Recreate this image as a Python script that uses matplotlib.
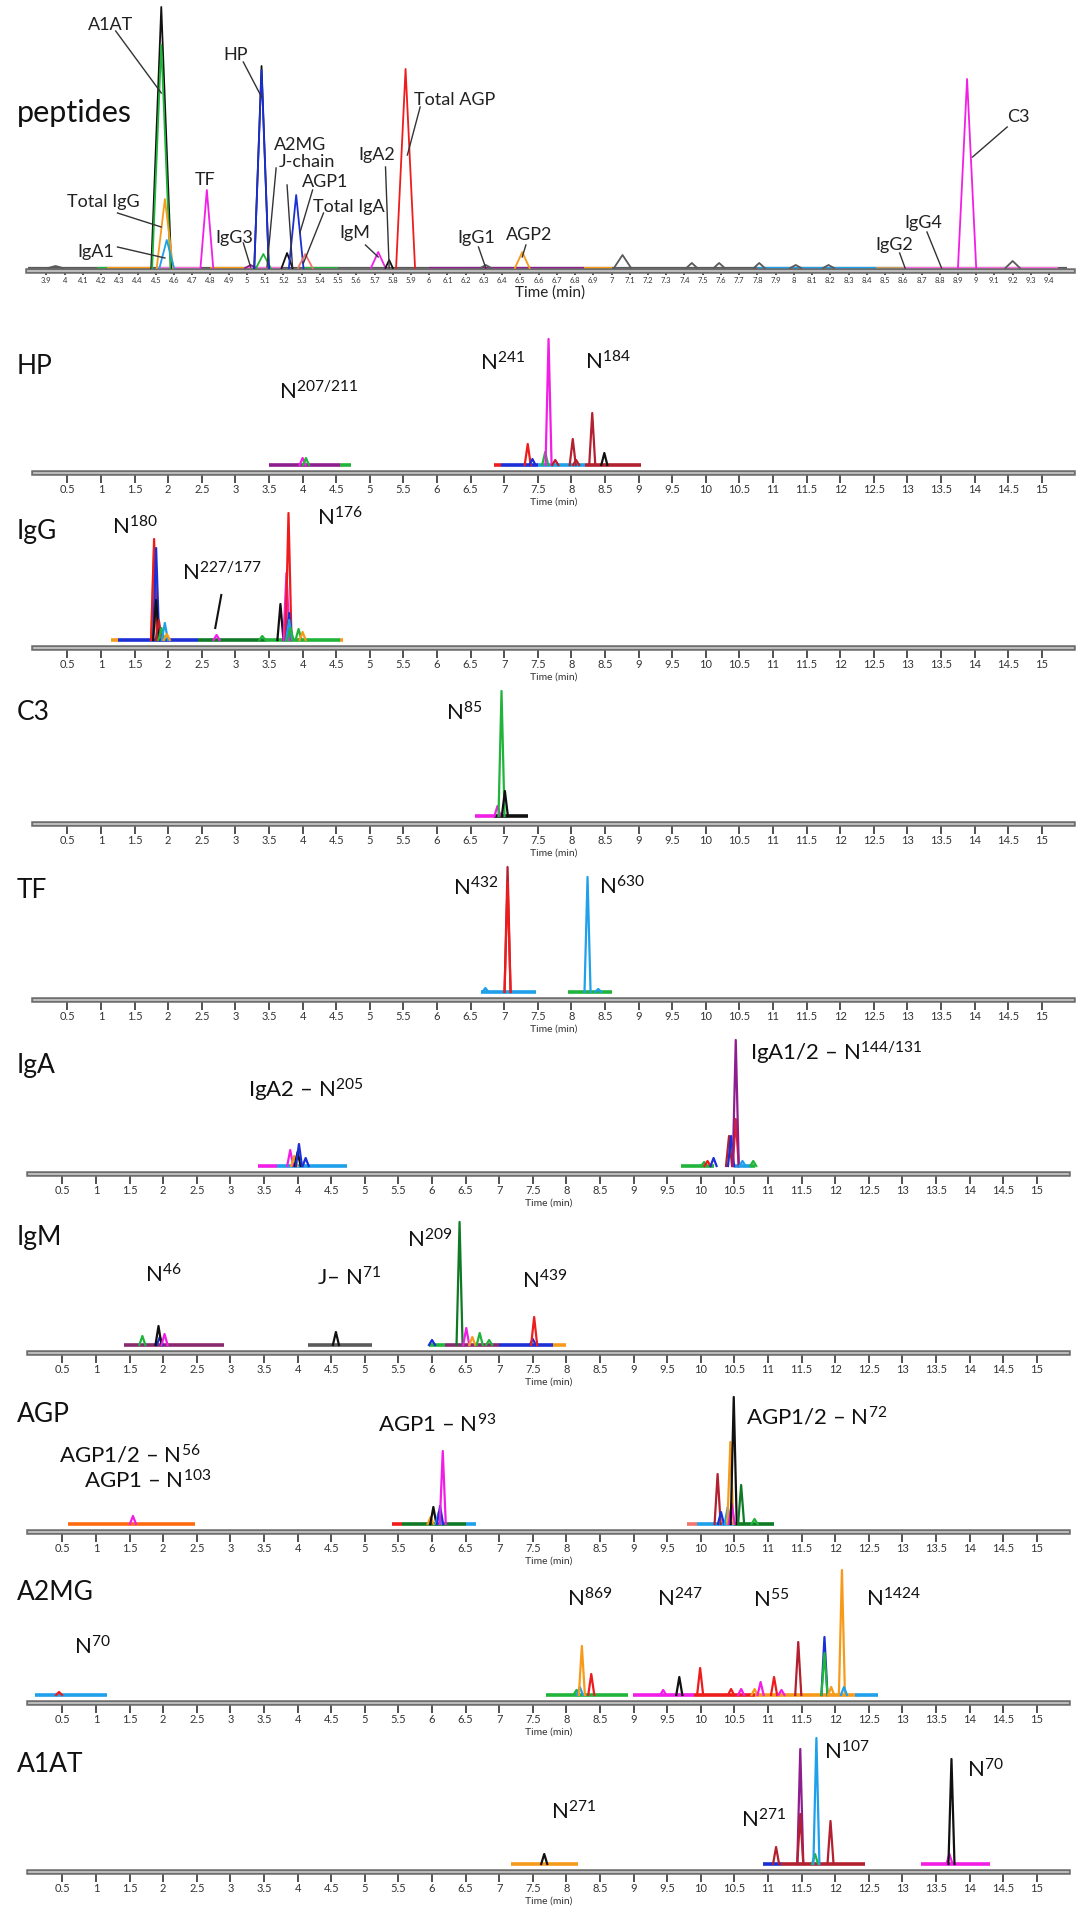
import matplotlib
matplotlib.use("Agg")
import matplotlib.pyplot as plt
from matplotlib.ticker import MultipleLocator, FuncFormatter

plt.rcParams["font.family"] = ["Lato", "DejaVu Sans"]
plt.rcParams["mathtext.fontset"] = "custom"
plt.rcParams["mathtext.rm"] = "Lato"
plt.rcParams["mathtext.it"] = "Lato:italic"
plt.rcParams["mathtext.bf"] = "Lato:bold"
plt.rcParams["mathtext.default"] = "regular"

# trace colours (one per glycoform / peptide trace)
COLORS = {
    "black": "#111111", "grey": "#5a5a5a", "red": "#ee1c1c", "darkred": "#b3202f",
    "magenta": "#f21ee6", "purple": "#8e1e8e", "green": "#20b43a", "darkgreen": "#0e7a25",
    "blue": "#1a2fd6", "lightblue": "#1ea0ea", "orange": "#f79a1a", "salmon": "#f2746b",
    "tan": "#c8a060", "pink": "#ff6fe0", "maroon": "#8a2a6e", "dorange": "#ff6a10",
}

# ---------------- peptides (top) ----------------
# (colour, time, height, half width)
PEP_PEAKS = [
    ("grey", 3.95, 2, 0.04), ("black", 4.53, 261, 0.055), ("green", 4.53, 223, 0.05),
    ("orange", 4.55, 69, 0.045), ("lightblue", 4.56, 28, 0.04), ("magenta", 4.78, 78, 0.035),
    ("purple", 5.02, 3, 0.03), ("green", 5.09, 14, 0.04), ("black", 5.08, 202, 0.04),
    ("blue", 5.08, 198, 0.04), ("black", 5.22, 15, 0.03), ("blue", 5.27, 73, 0.04),
    ("salmon", 5.32, 14, 0.04), ("magenta", 5.72, 16, 0.04), ("black", 5.78, 8, 0.02),
    ("red", 5.87, 199, 0.052), ("grey", 6.31, 3, 0.03), ("orange", 6.51, 16, 0.04),
    ("grey", 7.06, 13, 0.047), ("grey", 7.44, 5, 0.03), ("grey", 7.59, 5, 0.03),
    ("grey", 7.81, 5, 0.03), ("grey", 8.01, 3, 0.03), ("grey", 8.19, 3, 0.03),
    ("magenta", 8.95, 189, 0.05), ("grey", 9.2, 7, 0.04),
]
PEP_BASE = [
    ("grey", 3.75, 9.5), ("green", 4.18, 4.23), ("orange", 4.23, 4.48), ("pink", 4.5, 4.75),
    ("orange", 4.8, 5.0), ("pink", 5.0, 5.2), ("green", 5.3, 5.5), ("purple", 6.0, 6.85),
    ("orange", 6.85, 7.0), ("lightblue", 7.8, 8.45), ("tan", 8.45, 8.6), ("pink", 8.6, 9.45),
]
# (label, text time, text height, line from (t, h), line to (t, h))
PEP_LABELS = [
    ("A1AT", 4.25, 243, (4.28, 237), (4.53, 175)),
    ("HP", 4.94, 213, (4.98, 206), (5.08, 171)),
    ("A2MG", 5.29, 123, (5.16, 100), (5.11, 1)),
    ("J-chain", 5.33, 106, (5.22, 83), (5.25, 1)),
    ("TF", 4.77, 88, None, None),
    ("AGP1", 5.43, 86, (5.36, 78), (5.29, 35)),
    ("Total IgA", 5.56, 61, (5.42, 55), (5.31, 5)),
    ("Total IgG", 4.21, 66, (4.29, 55), (4.53, 41)),
    ("IgG3", 4.93, 30, (4.98, 25), (5.02, 1)),
    ("IgA1", 4.17, 16, (4.29, 21), (4.55, 10)),
    ("IgM", 5.59, 35, (5.65, 23), (5.72, 11)),
    ("IgA2", 5.71, 113, (5.76, 101), (5.78, 0)),
    ("Total AGP", 6.14, 168, (5.95, 161), (5.88, 113)),
    ("IgG1", 6.26, 30, (6.27, 21), (6.31, 0)),
    ("AGP2", 6.55, 33, (6.53, 23), (6.51, 11)),
    ("IgG2", 8.55, 23, (8.58, 15), (8.61, 0)),
    ("IgG4", 8.71, 45, (8.73, 36), (8.81, 0)),
    ("C3", 9.23, 151, (9.17, 141), (8.98, 111)),
]

# ---------------- site specific panels ----------------
HP_BASE = [("purple", 3.5, 4.55), ("green", 4.55, 4.72), ("red", 6.85, 6.95),
           ("blue", 6.95, 7.5), ("lightblue", 7.5, 8.2), ("darkred", 8.2, 9.03)]
HP_PEAKS = [("magenta", 4.0, 7), ("green", 4.05, 7), ("red", 7.35, 21), ("blue", 7.42, 6),
            ("green", 7.61, 13), ("magenta", 7.66, 126), ("darkred", 7.76, 5),
            ("darkred", 8.02, 26), ("darkred", 8.07, 5), ("darkred", 8.31, 52),
            ("black", 8.49, 12)]
HP_SITES = [("N$^{207/211}$", 4.24, 73), ("N$^{241}$", 6.98, 102), ("N$^{184}$", 8.54, 103)]

IGG_BASE = [("orange", 1.15, 1.25), ("blue", 1.25, 2.45), ("darkgreen", 2.45, 3.45),
            ("green", 3.45, 4.55), ("orange", 4.55, 4.6)]
IGG_PEAKS = [("orange", 1.79, 90), ("red", 1.79, 101), ("blue", 1.82, 92), ("black", 1.82, 40),
             ("darkred", 1.86, 20), ("green", 1.9, 12), ("lightblue", 1.95, 17),
             ("orange", 1.98, 6), ("magenta", 2.72, 5), ("green", 3.4, 4), ("black", 3.67, 36),
             ("magenta", 3.76, 67), ("red", 3.79, 127), ("blue", 3.8, 27),
             ("lightblue", 3.8, 20), ("green", 3.82, 12), ("green", 3.94, 11), ("orange", 4.0, 8)]
IGG_SITES = [("N$^{180}$", 1.51, 113), ("N$^{227/177}$", 2.80, 67), ("N$^{176}$", 4.56, 122)]

C3_BASE = [("magenta", 6.56, 6.85), ("black", 6.85, 7.35)]
C3_PEAKS = [("magenta", 6.9, 10), ("green", 6.96, 125), ("black", 7.01, 25)]
C3_SITES = [("N$^{85}$", 6.40, 103)]

TF_BASE = [("lightblue", 6.66, 7.48), ("green", 7.95, 8.61)]
TF_PEAKS = [("lightblue", 6.72, 4), ("darkred", 7.05, 125), ("red", 7.05, 110),
            ("lightblue", 8.24, 115), ("lightblue", 8.4, 3)]
TF_SITES = [("N$^{432}$", 6.58, 104), ("N$^{630}$", 8.75, 105)]

IGA_BASE = [("magenta", 3.41, 3.7), ("lightblue", 3.7, 4.74), ("green", 9.7, 10.2),
            ("lightblue", 10.5, 10.75), ("green", 10.75, 10.8)]
IGA_PEAKS = [("magenta", 3.89, 16), ("orange", 3.95, 10), ("black", 4.0, 14), ("blue", 4.02, 22),
             ("blue", 4.12, 8), ("green", 10.05, 4), ("red", 10.1, 5), ("blue", 10.19, 8),
             ("darkred", 10.42, 30), ("blue", 10.45, 30), ("red", 10.52, 47),
             ("purple", 10.52, 126), ("lightblue", 10.62, 5), ("green", 10.78, 5)]
IGA_SITES = [("IgA2 – N$^{205}$", 4.12, 76), ("IgA1/2 – N$^{144/131}$", 12.01, 113)]

IGM_BASE = [("maroon", 1.41, 2.9), ("grey", 4.15, 5.1), ("green", 5.95, 6.2),
            ("maroon", 6.2, 7.0), ("blue", 7.0, 7.8), ("orange", 7.8, 8.0)]
IGM_PEAKS = [("green", 1.69, 9), ("blue", 1.95, 8), ("black", 1.93, 19), ("magenta", 2.02, 11),
             ("black", 4.57, 13), ("blue", 6.0, 5), ("darkgreen", 6.41, 123),
             ("magenta", 6.51, 17), ("orange", 6.6, 8), ("green", 6.71, 12), ("green", 6.85, 5),
             ("blue", 7.5, 6), ("red", 7.52, 28)]
IGM_SITES = [("N$^{46}$", 2.0, 70), ("J– N$^{71}$", 4.77, 67), ("N$^{209}$", 5.97, 105),
             ("N$^{439}$", 7.67, 64)]

AGP_BASE = [("dorange", 0.58, 2.48), ("red", 5.41, 5.55), ("darkgreen", 5.55, 6.5),
            ("lightblue", 6.5, 6.65), ("salmon", 9.8, 9.95), ("lightblue", 9.95, 10.5),
            ("darkgreen", 10.5, 11.09)]
AGP_PEAKS = [("magenta", 1.55, 8), ("orange", 5.98, 7), ("black", 6.02, 17),
             ("lightblue", 6.1, 12), ("blue", 6.12, 18), ("magenta", 6.16, 73),
             ("darkred", 10.25, 50), ("blue", 10.3, 12), ("lightblue", 10.4, 17),
             ("orange", 10.44, 82), ("magenta", 10.46, 20), ("black", 10.49, 127),
             ("darkgreen", 10.6, 39), ("green", 10.8, 5)]
AGP_SITES = [("AGP1/2 – N$^{56}$", 1.50, 69), ("AGP1 – N$^{103}$", 1.77, 43),
             ("AGP1 – N$^{93}$", 6.07, 99), ("AGP1/2 – N$^{72}$", 11.73, 107)]

A2MG_BASE = [("lightblue", 0.09, 1.17), ("green", 7.7, 8.92), ("magenta", 8.99, 9.9),
             ("red", 9.9, 10.8), ("orange", 10.8, 12.3), ("lightblue", 12.3, 12.64)]
A2MG_PEAKS = [("red", 0.45, 3), ("green", 8.15, 5), ("lightblue", 8.2, 8), ("orange", 8.23, 49),
              ("red", 8.37, 21), ("magenta", 9.44, 5), ("black", 9.68, 18), ("red", 9.99, 27),
              ("red", 10.45, 6), ("magenta", 10.6, 6), ("orange", 10.8, 6),
              ("magenta", 10.89, 13), ("red", 11.09, 18), ("magenta", 11.2, 5),
              ("darkred", 11.45, 53), ("blue", 11.84, 58), ("green", 11.84, 42),
              ("orange", 11.94, 8), ("orange", 12.1, 125), ("lightblue", 12.13, 8)]
A2MG_SITES = [("N$^{70}$", 0.94, 48), ("N$^{869}$", 8.35, 96), ("N$^{247}$", 9.69, 96),
              ("N$^{55}$", 11.04, 95), ("N$^{1424}$", 12.87, 96)]

A1AT_BASE = [("orange", 7.17, 8.17), ("blue", 10.92, 11.2), ("darkred", 11.2, 12.44),
             ("magenta", 13.28, 14.3)]
A1AT_PEAKS = [("black", 7.67, 10), ("darkred", 11.12, 17), ("purple", 11.48, 115),
              ("darkred", 11.48, 50), ("green", 11.7, 10), ("lightblue", 11.72, 126),
              ("darkred", 11.93, 43), ("magenta", 13.7, 10), ("black", 13.73, 105)]
A1AT_SITES = [("N$^{271}$", 8.11, 52), ("N$^{271}$", 10.94, 44), ("N$^{107}$", 12.18, 112),
              ("N$^{70}$", 14.23, 94)]

PANEL_NAMES = ["HP", "IgG", "C3", "TF", "IgA", "IgM", "AGP", "A2MG", "A1AT"]
PANEL_DATA = [
    (HP_BASE, HP_PEAKS, HP_SITES), (IGG_BASE, IGG_PEAKS, IGG_SITES),
    (C3_BASE, C3_PEAKS, C3_SITES), (TF_BASE, TF_PEAKS, TF_SITES),
    (IGA_BASE, IGA_PEAKS, IGA_SITES), (IGM_BASE, IGM_PEAKS, IGM_SITES),
    (AGP_BASE, AGP_PEAKS, AGP_SITES), (A2MG_BASE, A2MG_PEAKS, A2MG_SITES),
    (A1AT_BASE, A1AT_PEAKS, A1AT_SITES),
]

# layout (pixels from top of the 1089 x 1920 figure)
W, H = 1089, 1920
AXIS_Y = [473, 648, 824, 1000, 1174, 1353, 1532, 1703, 1872]
X_SHIFT = [0, 0, 0, 0, -5, -5, -5, -5, -5]
NAME_Y = [367, 532, 712, 890, 1065, 1238, 1415, 1592, 1765]

fig = plt.figure(figsize=(W / 100, H / 100), dpi=100)
fmt = FuncFormatter(lambda v, _: f"{v:g}")


def style_axis(ax, tick_len, label_size, pad):
    for side in ("top", "left", "right"):
        ax.spines[side].set_visible(False)
    ax.spines["bottom"].set_color("#6e6e6e")
    ax.spines["bottom"].set_linewidth(4)
    ax.axhline(ax.get_ylim()[0], color="#c4c4c4", lw=1.3, clip_on=False, zorder=5)
    ax.yaxis.set_visible(False)
    ax.xaxis.set_major_formatter(fmt)
    ax.tick_params(axis="x", direction="out", length=tick_len, width=1.2, color="#333333",
                   labelsize=label_size, labelcolor="#333333", pad=pad)
    ax.set_facecolor("none")


def draw_trace(ax, base, peaks, default_w, lw_base, lw_peak):
    for key, t0, t1 in base:
        ax.plot([t0, t1], [0, 0], color=COLORS[key], lw=lw_base, solid_capstyle="butt", zorder=2)
    for p in peaks:
        key, t, h = p[0], p[1], p[2]
        w = p[3] if len(p) > 3 else default_w
        ax.plot([t - w, t, t + w], [0, h, 0], color=COLORS[key], lw=lw_peak, zorder=3)


# ---- top peptides panel
ax0 = fig.add_axes([28 / W, 1 - 271 / H, 1045 / W, 271 / H])
ax0.set_xlim(3.799, 9.531)
ax0.set_ylim(-3, 268)
draw_trace(ax0, PEP_BASE, PEP_PEAKS, 0.04, 1.6, 1.3)
ax0.xaxis.set_major_locator(MultipleLocator(0.1))
style_axis(ax0, 3, 5.5, 1)
ax0.set_xticks([round(3.9 + 0.1 * i, 1) for i in range(56)])
ax0.set_xlabel("Time (min)", fontsize=11, labelpad=1, color="#222222")
for name, tx, ty, p0, p1 in PEP_LABELS:
    ax0.text(tx, ty, name, fontsize=13, ha="center", va="center", color="#222222", zorder=6)
    if p0 is not None:
        ax0.plot([p0[0], p1[0]], [p0[1], p1[1]], color="#333333", lw=1, zorder=6)
fig.text(17 / W, 1 - 113 / H, "peptides", fontsize=22, ha="left", va="center", color="#111111")

# ---- site-specific panels
for i, name in enumerate(PANEL_NAMES):
    base, peaks, sites = PANEL_DATA[i]
    y_axis = AXIS_Y[i]
    left = 33.8 + X_SHIFT[i]
    ax = fig.add_axes([left / W, 1 - y_axis / H, 1039.6 / W, 150 / H])
    ax.set_xlim(0, 15.47)
    ax.set_ylim(-8, 142)
    draw_trace(ax, base, peaks, 0.045, 2.6, 1.6)
    ax.set_xticks([0.5 * k for k in range(1, 31)])
    style_axis(ax, 7, 8, 1)
    ax.set_xlabel("Time (min)", fontsize=7.5, labelpad=2, color="#333333")
    for label, t, h in sites:
        ax.text(t, h, label, fontsize=16, ha="center", va="center", color="#111111",
                clip_on=False, zorder=6)
    fig.text(17 / W, 1 - NAME_Y[i] / H, name, fontsize=19, ha="left", va="center",
             color="#111111")

# leader line for the IgG N227/177 label
ax_igg = fig.axes[2]
ax_igg.plot([2.79, 2.70], [45, 12], color="#111111", lw=1.5, zorder=6)

fig.savefig("out.png", dpi=100, facecolor="white")
